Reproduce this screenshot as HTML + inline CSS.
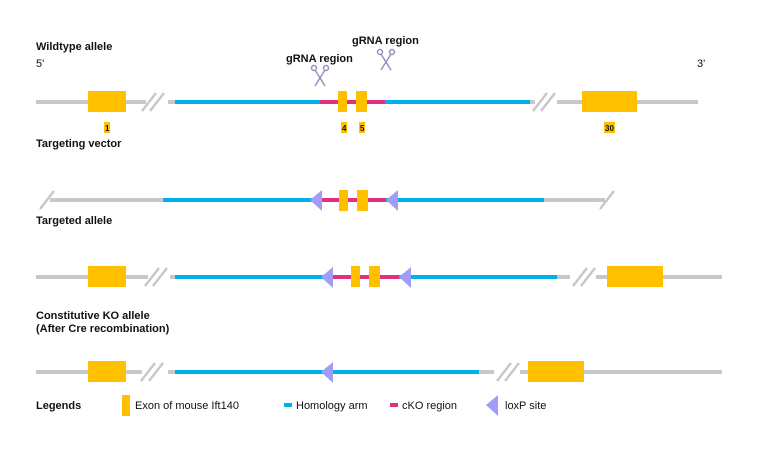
<!DOCTYPE html>
<html><head><meta charset="utf-8"><style>
body{margin:0;background:#fff;}
svg text{font-family:"Liberation Sans",Arial,sans-serif;font-size:11px;fill:#111;}
.b{font-weight:bold;}
</style></head><body>
<svg width="757" height="455" viewBox="0 0 757 455" xmlns="http://www.w3.org/2000/svg">
<g stroke-width="4" fill="none">
<!-- wildtype -->
<line x1="36" y1="102" x2="175" y2="102" stroke="#c8c8c8"/>
<line x1="530" y1="102" x2="698" y2="102" stroke="#c8c8c8"/>
<line x1="175" y1="102" x2="530" y2="102" stroke="#00b0ea"/>
<line x1="320" y1="102" x2="385" y2="102" stroke="#e0307e"/>
<!-- targeting vector -->
<line x1="50" y1="200" x2="163" y2="200" stroke="#c8c8c8"/>
<line x1="544" y1="200" x2="605" y2="200" stroke="#c8c8c8"/>
<line x1="163" y1="200" x2="544" y2="200" stroke="#00b0ea"/>
<line x1="322" y1="200" x2="386" y2="200" stroke="#e0307e"/>
<!-- targeted -->
<line x1="36" y1="277" x2="175" y2="277" stroke="#c8c8c8"/>
<line x1="557" y1="277" x2="722" y2="277" stroke="#c8c8c8"/>
<line x1="175" y1="277" x2="557" y2="277" stroke="#00b0ea"/>
<line x1="333" y1="277" x2="399" y2="277" stroke="#e0307e"/>
<!-- KO -->
<line x1="36" y1="372" x2="175" y2="372" stroke="#c8c8c8"/>
<line x1="479" y1="372" x2="722" y2="372" stroke="#c8c8c8"/>
<line x1="175" y1="372" x2="479" y2="372" stroke="#00b0ea"/>
<!-- legend lines -->
<line x1="284" y1="405" x2="292" y2="405" stroke="#00b0ea"/>
<line x1="390" y1="405" x2="398" y2="405" stroke="#e0307e"/>
</g>
<!-- breaks -->
<g fill="#fff"><rect x="146" y="95" width="22" height="14"/><rect x="535" y="95" width="22" height="14"/>
<rect x="148" y="270" width="22" height="14"/><rect x="570" y="270" width="26" height="14"/>
<rect x="142" y="365" width="26" height="14"/><rect x="494" y="365" width="26" height="14"/></g>
<g stroke="#c8c8c8" stroke-width="2.5">
<line x1="142" y1="111" x2="156" y2="93"/><line x1="150" y1="111" x2="164" y2="93"/>
<line x1="533" y1="111" x2="547" y2="93"/><line x1="541" y1="111" x2="555" y2="93"/>
<line x1="145" y1="286" x2="159" y2="268"/><line x1="153" y1="286" x2="167" y2="268"/>
<line x1="573" y1="286" x2="587" y2="268"/><line x1="581" y1="286" x2="595" y2="268"/>
<line x1="141" y1="381" x2="155" y2="363"/><line x1="149" y1="381" x2="163" y2="363"/>
<line x1="497" y1="381" x2="511" y2="363"/><line x1="505" y1="381" x2="519" y2="363"/>
<line x1="40" y1="209" x2="54" y2="191"/><line x1="600" y1="209" x2="614" y2="191"/>
</g>
<!-- exons -->
<g fill="#ffc000">
<rect x="88" y="91" width="38" height="21"/><rect x="338" y="91" width="9" height="21"/><rect x="356" y="91" width="11" height="21"/><rect x="582" y="91" width="55" height="21"/>
<rect x="104" y="122" width="6" height="11"/><rect x="341" y="122" width="6" height="11"/><rect x="359" y="122" width="6" height="11"/><rect x="604" y="122" width="11" height="11"/>
<rect x="339" y="190" width="9" height="21"/><rect x="357" y="190" width="11" height="21"/>
<rect x="88" y="266" width="38" height="21"/><rect x="351" y="266" width="9" height="21"/><rect x="369" y="266" width="11" height="21"/><rect x="607" y="266" width="56" height="21"/>
<rect x="88" y="361" width="38" height="21"/><rect x="528" y="361" width="56" height="21"/>
<rect x="122" y="395" width="8" height="21"/>
</g>
<!-- loxP -->
<g fill="#a09cf8">
<polygon points="310,200 322,190 322,211"/><polygon points="386,200 398,190 398,211"/>
<polygon points="321,277 333,267 333,288"/><polygon points="399,277 411,267 411,288"/>
<polygon points="321,372 333,362 333,383"/>
<polygon points="486,405 498,395 498,416"/>
</g>
<!-- scissors -->
<g stroke="#9a8fc0" stroke-width="1.5" fill="none">
<line x1="315" y1="86" x2="325" y2="70"/><line x1="325" y1="86" x2="315" y2="70"/><circle cx="314" cy="68" r="2.5"/><circle cx="326" cy="68" r="2.5"/>
<line x1="381" y1="70" x2="391" y2="54"/><line x1="391" y1="70" x2="381" y2="54"/><circle cx="380" cy="52" r="2.5"/><circle cx="392" cy="52" r="2.5"/>
</g>
<!-- text -->
<text x="36" y="50" class="b">Wildtype allele</text>
<text x="36" y="67">5'</text><text x="697" y="67">3'</text>
<text x="286" y="62" class="b">gRNA region</text>
<text x="352" y="44" class="b">gRNA region</text>
<g style="font-size:8px;font-weight:bold"><text x="105" y="131" style="font-size:8px">1</text><text x="342" y="131" style="font-size:8px">4</text><text x="360" y="131" style="font-size:8px">5</text><text x="605" y="131" style="font-size:8px">30</text></g>
<text x="36" y="147" class="b">Targeting vector</text>
<text x="36" y="224" class="b">Targeted allele</text>
<text x="36" y="319" class="b">Constitutive KO allele</text>
<text x="36" y="332" class="b">(After Cre recombination)</text>
<text x="36" y="409" class="b">Legends</text>
<text x="135" y="409">Exon of mouse Ift140</text>
<text x="296" y="409">Homology arm</text>
<text x="402" y="409">cKO region</text>
<text x="505" y="409">loxP site</text>
</svg>
</body></html>
